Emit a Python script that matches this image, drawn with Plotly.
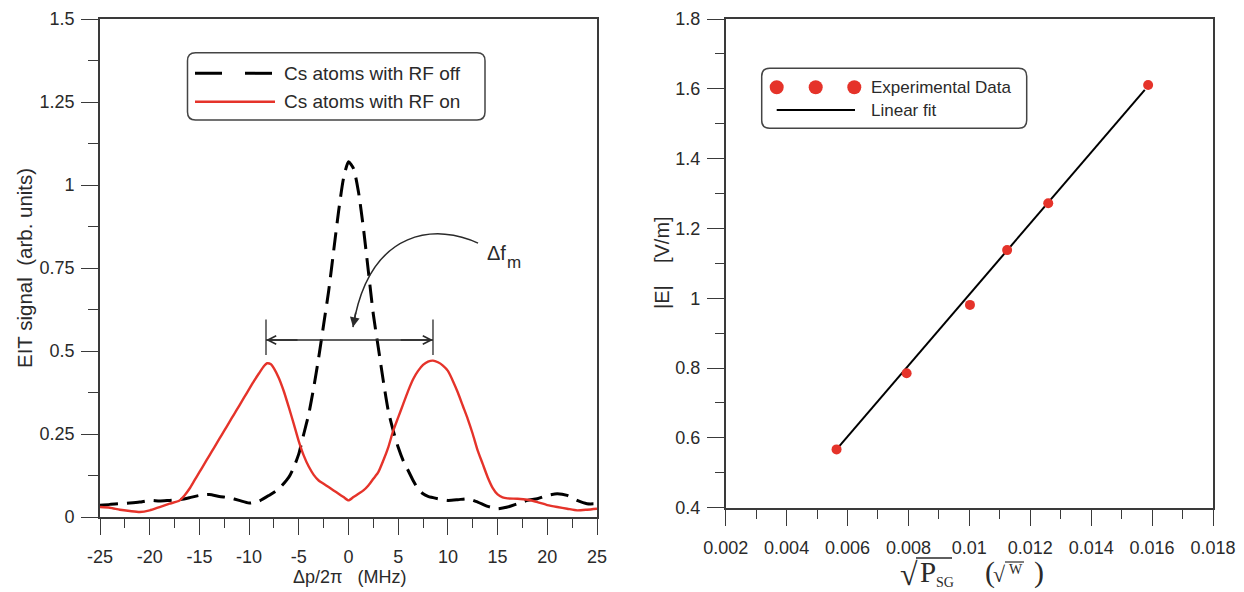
import plotly.graph_objects as go

# window is 1244x592; the page body has an 8px margin, so the figure is 8px smaller on each axis
OFF = 8
W, H = 1244 - OFF, 592 - OFF

# ---------------- data: left panel (EIT spectra) ----------------
det_off = [-25, -24, -23, -22, -21, -20, -19, -18, -17, -16, -15, -14, -13, -12, -11, -10, -9, -8, -7, -6,
           -5.5, -5, -4.5, -4, -3.5, -3, -2.5, -2, -1.5, -1, -0.5, 0, 0.5, 1, 1.5, 2, 2.5, 3, 3.5, 4,
           4.5, 5, 5.5, 6, 6.5, 7, 7.5, 8, 9, 10, 11, 12, 13, 14, 15, 16, 17, 18, 19, 20, 21, 22, 23, 24, 25]
sig_off = [0.035, 0.038, 0.040, 0.042, 0.045, 0.050, 0.048, 0.050, 0.052, 0.058, 0.065, 0.068, 0.062, 0.058,
           0.050, 0.042, 0.048, 0.065, 0.085, 0.120, 0.150, 0.190, 0.250, 0.310, 0.390, 0.480, 0.580, 0.680,
           0.800, 0.920, 1.020, 1.070, 1.050, 0.980, 0.870, 0.740, 0.610, 0.510, 0.410, 0.320, 0.260, 0.210,
           0.170, 0.140, 0.110, 0.085, 0.070, 0.062, 0.055, 0.050, 0.052, 0.055, 0.045, 0.032, 0.025, 0.030,
           0.040, 0.050, 0.055, 0.065, 0.070, 0.065, 0.050, 0.040, 0.040]

det_on = [-25, -24, -23, -22, -21, -20, -19, -18, -17, -16.5, -16, -15.5, -15, -14.5, -14, -13.5, -13, -12.5,
          -12, -11.5, -11, -10.5, -10, -9.5, -9, -8.5, -8.2, -7.8, -7.5, -7, -6.5, -6, -5.5, -5, -4.5, -4,
          -3.5, -3, -2.5, -2, -1.5, -1, -0.5, 0, 0.5, 1, 1.5, 2, 2.5, 3, 3.5, 4, 4.5, 5, 5.5, 6, 6.5, 7,
          7.5, 8, 8.5, 9, 9.5, 10, 10.5, 11, 11.5, 12, 12.5, 13, 13.5, 14, 14.5, 15, 15.5, 16, 17, 18, 19,
          20, 21, 22, 23, 24, 25]
sig_on = [0.030, 0.028, 0.022, 0.018, 0.015, 0.020, 0.030, 0.040, 0.050, 0.065, 0.085, 0.110, 0.135, 0.160,
          0.185, 0.210, 0.235, 0.260, 0.285, 0.310, 0.335, 0.360, 0.385, 0.410, 0.433, 0.455, 0.463, 0.460,
          0.448, 0.418, 0.378, 0.330, 0.280, 0.228, 0.185, 0.152, 0.127, 0.110, 0.100, 0.090, 0.080, 0.070,
          0.060, 0.050, 0.060, 0.070, 0.080, 0.095, 0.115, 0.135, 0.170, 0.210, 0.260, 0.300, 0.340, 0.380,
          0.415, 0.440, 0.458, 0.468, 0.471, 0.466, 0.456, 0.440, 0.410, 0.375, 0.335, 0.295, 0.250, 0.200,
          0.160, 0.120, 0.088, 0.068, 0.059, 0.056, 0.055, 0.052, 0.045, 0.036, 0.030, 0.025, 0.020, 0.022,
          0.025]

left_xticks = [-25, -20, -15, -10, -5, 0, 5, 10, 15, 20, 25]
left_xtext = ["-25", "-20", "-15", "-10", "-5", "0", "5", "10", "15", "20", "25"]
left_yticks = [0, 0.25, 0.5, 0.75, 1, 1.25, 1.5]
left_ytext = ["0", "0.25", "0.5", "0.75", "1", "1.25", "1.5"]

# splitting marker (peak positions) and annotation anchor
split_left, split_right, split_level = -8.3, 8.5, 0.533

# ---------------- data: right panel (field vs sqrt power) ----------------
sqrt_p = [0.00564, 0.00794, 0.01002, 0.01124, 0.01259, 0.01587]
e_field = [0.567, 0.785, 0.981, 1.138, 1.272, 1.611]
fit_x = [0.00564, 0.01576]
fit_y = [0.567, 1.597]

right_xticks = [0.002, 0.004, 0.006, 0.008, 0.01, 0.012, 0.014, 0.016, 0.018]
right_xtext = ["0.002", "0.004", "0.006", "0.008", "0.01", "0.012", "0.014", "0.016", "0.018"]
right_yticks = [0.4, 0.6, 0.8, 1, 1.2, 1.4, 1.6, 1.8]
right_ytext = ["0.4", "0.6", "0.8", "1", "1.2", "1.4", "1.6", "1.8"]

# ---------------- styling ----------------
RED = "#e5332a"
INK = "#2a2a2a"
AX = "#3a3a3a"
SANS = "Liberation Sans, Arial, sans-serif"
SERIF = "Liberation Serif, Times New Roman, serif"


def px(x):
    return (x - OFF) / W


def py(y):
    return 1 - (y - OFF) / H


fig = go.Figure()

fig.add_trace(go.Scatter(x=det_off, y=sig_off, mode="lines", name="Cs atoms with RF off",
                         line=dict(color="black", width=3, dash="18px,9px", shape="spline", smoothing=0.6),
                         xaxis="x", yaxis="y", showlegend=False))
fig.add_trace(go.Scatter(x=det_on, y=sig_on, mode="lines", name="Cs atoms with RF on",
                         line=dict(color=RED, width=2.4, shape="spline", smoothing=0.6),
                         xaxis="x", yaxis="y", showlegend=False))
fig.add_trace(go.Scatter(x=fit_x, y=fit_y, mode="lines", name="Linear fit",
                         line=dict(color="black", width=2), xaxis="x2", yaxis="y2", showlegend=False))
fig.add_trace(go.Scatter(x=sqrt_p, y=e_field, mode="markers", name="Experimental Data",
                         marker=dict(color=RED, size=10), xaxis="x2", yaxis="y2", showlegend=False))

axis_common = dict(showline=True, linecolor=AX, linewidth=1.6, mirror=True, ticks="outside",
                   tickcolor=AX, tickwidth=1.4, showgrid=False, zeroline=False, automargin=False,
                   tickfont=dict(family=SANS, size=18, color=INK))

fig.update_layout(
    width=W, height=H, margin=dict(l=0, r=0, t=0, b=0, autoexpand=False),
    paper_bgcolor="white", plot_bgcolor="white", showlegend=False,
    xaxis=dict(domain=[px(100), px(597)], range=[-25, 25], tickvals=left_xticks, ticktext=left_xtext,
               ticklen=16, ticklabelstandoff=7,
               minor=dict(dtick=2.5, tick0=0, ticklen=9, ticks="outside", tickcolor=AX, tickwidth=1.4),
               anchor="y", **axis_common),
    yaxis=dict(domain=[py(517), py(19)], range=[0, 1.5], tickvals=left_yticks, ticktext=left_ytext,
               ticklen=17, ticklabelstandoff=3,
               minor=dict(dtick=0.125, tick0=0, ticklen=10, ticks="outside", tickcolor=AX, tickwidth=1.4),
               anchor="x", **axis_common),
    xaxis2=dict(domain=[px(725.7), px(1213)], range=[0.002, 0.018], tickvals=right_xticks,
                ticktext=right_xtext, ticklen=16, ticklabelstandoff=7,
                minor=dict(dtick=0.001, tick0=0, ticklen=9, ticks="outside", tickcolor=AX, tickwidth=1.4),
                anchor="y2", **axis_common),
    yaxis2=dict(domain=[py(507.7), py(19)], range=[0.4, 1.8], tickvals=right_yticks, ticktext=right_ytext,
                ticklen=17, ticklabelstandoff=3,
                minor=dict(dtick=0.1, tick0=0, ticklen=9, ticks="outside", tickcolor=AX, tickwidth=1.4),
                anchor="x2", **axis_common),
)

shapes = []
annotations = []


def rounded_box(x0, y0, x1, y1, r=8):
    rx, ry = r / W, r / H
    X0, X1 = px(x0), px(x1)
    Y0, Y1 = py(y0), py(y1)  # Y0 top, Y1 bottom
    path = (f"M {X0 + rx},{Y0} L {X1 - rx},{Y0} Q {X1},{Y0} {X1},{Y0 - ry} "
            f"L {X1},{Y1 + ry} Q {X1},{Y1} {X1 - rx},{Y1} "
            f"L {X0 + rx},{Y1} Q {X0},{Y1} {X0},{Y1 + ry} "
            f"L {X0},{Y0 - ry} Q {X0},{Y0} {X0 + rx},{Y0} Z")
    return dict(type="path", xref="paper", yref="paper", path=path,
                line=dict(color="#444", width=1.5), fillcolor="rgba(0,0,0,0)")


def text_at(txt, x, y, size, family=SANS, xanchor="left", angle=0):
    return dict(text=txt, x=px(x), y=py(y), xref="paper", yref="paper", xanchor=xanchor,
                yanchor="middle", showarrow=False, textangle=angle,
                font=dict(family=family, size=size, color=INK))


# --- left legend ---
shapes.append(rounded_box(187.5, 52.7, 485, 120))
shapes.append(dict(type="line", xref="paper", yref="paper", x0=px(195), x1=px(272), y0=py(73.3), y1=py(73.3),
                   line=dict(color="black", width=3, dash="27px,23px")))
shapes.append(dict(type="line", xref="paper", yref="paper", x0=px(195), x1=px(275), y0=py(101.7), y1=py(101.7),
                   line=dict(color=RED, width=2.4)))
annotations.append(text_at("Cs atoms with RF off", 282, 73.3, 19))
annotations.append(text_at("Cs atoms with RF on", 282, 101.7, 19))

# --- right legend ---
shapes.append(rounded_box(761.7, 68.3, 1026.7, 128.3))
for cx in (776.7, 815.7, 854.3):
    shapes.append(dict(type="circle", xref="paper", yref="paper", x0=px(cx - 7), x1=px(cx + 7),
                       y0=py(87.3 + 7), y1=py(87.3 - 7), fillcolor=RED, line=dict(width=0)))
shapes.append(dict(type="line", xref="paper", yref="paper", x0=px(776.7), x1=px(855), y0=py(110), y1=py(110),
                   line=dict(color="black", width=2)))
annotations.append(text_at("Experimental Data", 869, 87.3, 17))
annotations.append(text_at("Linear fit", 869, 110, 17))

# --- splitting annotation (left panel) ---
for xs in (split_left, split_right):
    shapes.append(dict(type="line", xref="x", yref="y", x0=xs, x1=xs, y0=split_level - 0.045,
                       y1=split_level + 0.062, line=dict(color=INK, width=1.3)))
shapes.append(dict(type="line", xref="x", yref="y", x0=split_left, x1=split_right, y0=split_level,
                   y1=split_level, line=dict(color=INK, width=1.5)))
for xs in (split_left, split_right):
    annotations.append(dict(x=xs, y=split_level, ax=xs * 0.6, ay=split_level, xref="x", yref="y", axref="x",
                            ayref="y", text="", showarrow=True, arrowhead=5, arrowsize=1.1,
                            arrowwidth=1.5, arrowcolor=INK, standoff=0))
# curved pointer
shapes.append(dict(type="path", xref="x", yref="y",
                   path="M 13.03,0.825 C 9.21,0.880 2.16,0.880 0.45,0.572",
                   line=dict(color=INK, width=1.5)))
annotations.append(dict(x=0.45, y=0.572, ax=3, ay=-16, xref="x", yref="y", text="", showarrow=True,
                        arrowhead=2, arrowsize=1.3, arrowwidth=1.5, arrowcolor=INK, standoff=0))
annotations.append(text_at("Δf", 485, 253, 20))
annotations.append(text_at("m", 505, 262, 17))

# --- axis titles ---
NB = "\u00a0"
annotations.append(text_at(f"EIT signal{NB}{NB}(arb. units)", 24, 268, 20.5, xanchor="center", angle=-90))
annotations.append(text_at(f"Δp/2π{NB}{NB}{NB}(MHz)", 349, 577, 18, xanchor="center"))
annotations.append(text_at(f"|E|{NB}{NB}{NB}{NB}[V/m]", 662, 263, 20, xanchor="center", angle=-90))

# right x-axis title: sqrt(P_SG)   (sqrt(W)) built from pieces, with drawn radical bars
annotations.append(text_at("√", 909, 574, 32, family=SERIF, xanchor="center"))
annotations.append(text_at("P", 918, 572, 29, family=SERIF))
annotations.append(text_at("SG", 934, 582, 14, family=SERIF))
annotations.append(text_at("(", 983, 572, 30, family=SERIF))
annotations.append(text_at("√", 999, 574, 22, family=SERIF, xanchor="center"))
annotations.append(text_at("W", 1007, 569, 14, family=SERIF))
annotations.append(text_at(")", 1032, 572, 30, family=SERIF))
shapes.append(dict(type="line", xref="paper", yref="paper", x0=px(916), x1=px(952), y0=py(558), y1=py(558),
                   line=dict(color=INK, width=1.5)))
shapes.append(dict(type="line", xref="paper", yref="paper", x0=px(1005), x1=px(1024), y0=py(562),
                   y1=py(562), line=dict(color=INK, width=1.2)))

fig.update_layout(shapes=shapes, annotations=annotations)

fig.write_html("out.html")
